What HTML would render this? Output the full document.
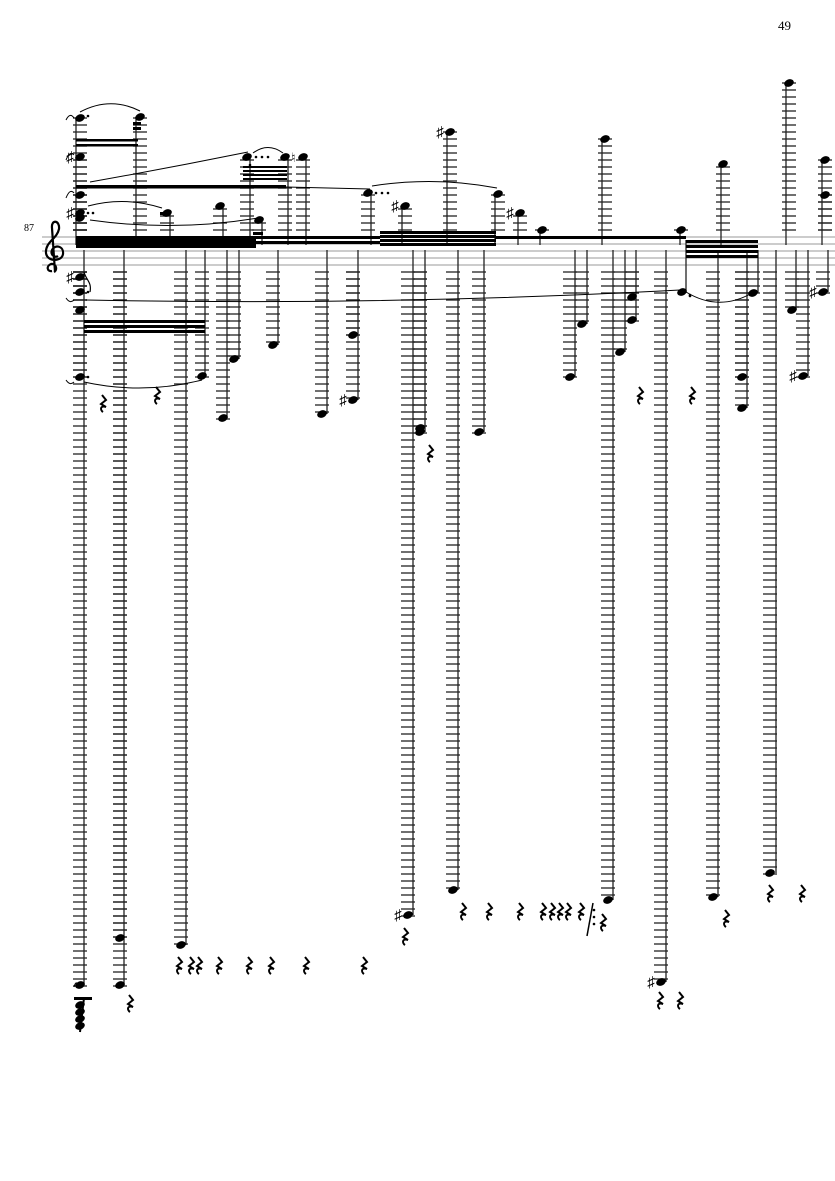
<!DOCTYPE html>
<html><head><meta charset="utf-8"><style>
html,body{margin:0;padding:0;background:#fff;width:835px;height:1181px;overflow:hidden}
svg{display:block}
text{font-family:"Liberation Serif","DejaVu Serif",serif}
</style></head><body>
<svg id="s" width="835" height="1181" viewBox="0 0 835 1181" xmlns="http://www.w3.org/2000/svg">
<text x="778" y="30" font-size="13">49</text>
<text x="24" y="231" font-size="10">87</text>
<g id="staff" stroke="#999" stroke-width="1">
<line x1="42" y1="237" x2="835" y2="237"/><line x1="42" y1="244" x2="835" y2="244"/>
<line x1="42" y1="251" x2="835" y2="251"/><line x1="42" y1="258" x2="835" y2="258"/>
<line x1="42" y1="265" x2="835" y2="265"/>
</g>
<path d="M52 271 C47 272 46 266 51 264 C56 263 58 270 54 272 M55 272 L52 228 C51 219 60 220 59 229 C57 239 45 242 46 253 C47 262 62 262 63 254 C64 246 55 244 52 250 C50 255 55 258 58 256" fill="none" stroke="#000" stroke-width="2.2"/>
<g id="g"></g>
</svg>
<script>
var g=document.getElementById('g'),out='';
function L(x1,y1,x2,y2,w,c){out+='<line x1="'+x1+'" y1="'+y1+'" x2="'+x2+'" y2="'+y2+'" stroke="'+(c||'#000')+'" stroke-width="'+w+'"/>';}
function R(x,y,w,h){out+='<rect x="'+x+'" y="'+y+'" width="'+w+'" height="'+h+'" fill="#000"/>';}
function H(x,y){out+='<ellipse cx="'+x+'" cy="'+y+'" rx="5" ry="3.6" transform="rotate(-22 '+x+' '+y+')" fill="#000"/>';}
function led(cx,y1,y2){
  for(var y=230;y>=y1-1;y-=7){ if(y<=y2) L(cx-7,y,cx+7,y,1.4,'#333'); }
  for(var y=272;y<=y2+1;y+=7){ if(y>=y1-1) L(cx-7,y,cx+7,y,1.4,'#333'); }
}
function sharp(x,y){out+='<text x="'+(x-5)+'" y="'+(y+5)+'" font-size="15" text-anchor="middle" font-family="DejaVu Sans">♯</text>';}
function rest(x,y){out+='<path d="M'+(x-1)+' '+(y-8)+' L'+(x+3)+' '+(y-3)+' L'+(x-2)+' '+(y+1)+' L'+(x+3)+' '+(y+4)+' C'+(x-3)+' '+(y+2)+' '+(x-3)+' '+(y+7)+' '+x+' '+(y+9)+'" fill="none" stroke="#000" stroke-width="2"/>';}
function dot(x,y){out+='<circle cx="'+x+'" cy="'+y+'" r="1.3" fill="#000"/>';}
function slur(x1,y1,x2,y2,cy){out+='<path d="M'+x1+' '+y1+' Q'+((x1+x2)/2)+' '+cy+' '+x2+' '+y2+'" fill="none" stroke="#000" stroke-width="1"/>';}

var down=[[80,985,84],[120,938,124],[120,985,124],[181,945,186],[202,376,205],[223,418,227],[234,359,239],[273,345,278],
[322,414,327],[353,400,358,1],[353,335,358],[408,915,413,1],[420,428,425],[420,432,425],[453,890,458],[479,432,484],
[570,377,575],[582,324,587],[608,900,613],[620,352,625],[632,320,636],[632,297,636],[661,982,666,1],[713,897,718],
[742,377,747],[742,408,747],[753,293,758],[770,873,776],[792,310,796],[803,376,808,1],[823,292,828,1],
[80,277,84,1],[80,292,84],[80,310,84],[80,377,84]];
var stems={};
down.forEach(function(n){var k=n[2];stems[k]=Math.max(stems[k]||0,n[1]);led(n[0],272,n[1]);});
for(var k in stems){L(+k,250,+k,stems[k],1.3,'#222');}
down.forEach(function(n){H(n[0],n[1]);if(n[3])sharp(n[0]-5,n[1]);});
var up=[[80,118,76],[80,157,76,1],[80,195,76],[80,213,76,1],[80,218,76],[140,117,136],[167,213,170],[220,206,223],[247,157,250],
[259,220,262],[285,157,288],[303,157,306],[368,193,371],[405,206,402,1],[450,132,447,1],[498,194,495],[520,213,518,1],
[542,230,540],[605,139,602],[681,230,680],[723,164,721],[789,83,786],[825,160,822],[825,195,822]];
var ust={};
up.forEach(function(n){var k=n[2];ust[k]=Math.min(ust[k]||999,n[1]);led(n[0],n[1],230);});
for(var k in ust){L(+k,ust[k],+k,245,1.3,'#222');}
up.forEach(function(n){H(n[0],n[1]);if(n[3])sharp(n[0]-5,n[1]);});
L(686,240,686,292,1.3,'#222');H(682,292);dot(690,295);
out+='<text x="291" y="162" font-size="13" font-family="DejaVu Sans">♮</text>';
R(76,139,62,2.5);R(76,144,62,2.5);R(133,122,8,3);R(133,127,8,3);
R(76,185,210,3.5);L(286,187,370,189,1,'#000');
R(243,166,44,2);R(243,170,44,2);R(243,174,44,2);R(243,178,44,2);
R(76,236,180,12);R(255,236,125,3);R(255,241,125,3);
R(380,231,116,3);R(380,235,116,3);R(380,239,116,3);R(380,243,116,3);
R(495,236,191,3);
R(686,240,72,3);R(686,245,72,3);R(686,250,72,3);R(686,255,72,3);
R(84,320,121,3);R(84,325,121,3);R(84,330,121,3);R(160,212,10,3);R(253,232,10,3);
slur(80,112,140,111,96);slur(90,182,248,152,168);slur(253,153,283,153,142);
slur(88,206,162,208,196);slur(90,220,258,218,232);slur(372,186,497,188,176);
slur(86,300,680,290,306);slur(686,292,752,293,312);slur(84,382,202,380,395);
slur(66,120,74,118,112);slur(66,160,74,155,150);slur(66,198,74,193,188);slur(66,298,74,300,304);slur(66,380,74,382,386);slur(74,987,78,985,980);
dot(88,116);dot(250,165);dot(256,157);dot(262,157);dot(268,157);dot(88,213);dot(93,213);dot(376,193);dot(382,193);dot(388,193);dot(88,292);dot(88,377);dot(690,296);
[[103,403],[157,395],[430,453],[640,395],[692,395],[179,965],[191,965],[199,965],[219,965],[249,965],[271,965],[306,965],[364,965],
[130,1003],[405,936],[463,911],[489,911],[520,911],[543,911],[552,911],[560,911],[568,911],[581,911],[603,922],[726,918],[770,893],[802,893],[660,1000],[680,1000]].forEach(function(r){rest(r[0],r[1]);});
out+='<path d="M84 272 C86 280 92 282 90 292" fill="none" stroke="#000" stroke-width="1.2"/>';
R(74,997,18,3);L(84,998,80,1032,2,'#000');[1005,1012,1019,1026].forEach(function(y){H(80,y);});
L(593,903,587,936,1.5,'#000');[910,917,924].forEach(function(y){dot(594,y);});
g.innerHTML=out;
</script>
</body></html>
